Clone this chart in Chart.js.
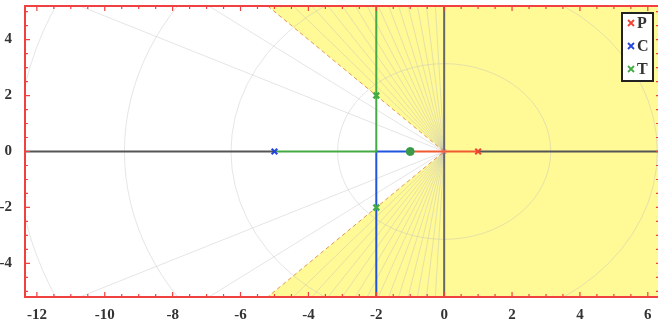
<!DOCTYPE html>
<html>
<head>
<meta charset="utf-8">
<script src="https://cdn.jsdelivr.net/npm/chart.js@4/dist/chart.umd.min.js"></script>
<style>
  body { margin: 0; background: #fff; overflow: hidden; }
  #wrap { width: 659px; height: 322px; }
</style>
</head>
<body>
<div id="wrap"><canvas id="locus"></canvas></div>
<script>
// axis ranges and tick labels
const xRange = [-12.35, 6.3];
const yRange = [-5.2, 5.2];
const xTickVals = [-12, -10, -8, -6, -4, -2, 0, 2, 4, 6];
const yTickVals = [-4, -2, 0, 2, 4];

// poles / zeros
const pX = [0, 1], pY = [0, 0];
const cX = [-5], cY = [0];
const tX = [-2, -2], tY = [2, -2];
const zX = [-1], zY = [0];

// locus branches
const greenX = [-5, -2, -2], greenY = [0, 0, 5.2];
const blueX = [-1, -2, -2], blueY = [0, 0, -5.2];
const redX = [-1, 1], redY = [0, 0];
const grayLeftX = [-12.35, -5], grayLeftY = [0, 0];
const grayRightX = [1, 6.3], grayRightY = [0, 0];
const imagX = [0, 0], imagY = [-5.2, 5.2];

// damping boundary (zeta = 0.707) and s-plane grid
const boundX = [-5.2, 0, -5.2], boundY = [5.2, 0, -5.2];
const gridRadii = [3.14, 6.28, 9.42, 12.57];
const zetaLines = [0.05, 0.1, 0.15, 0.2, 0.25, 0.3, 0.35, 0.4, 0.45, 0.5, 0.55, 0.6, 0.65, 0.8, 0.9];

const legendNames = ['P', 'C', 'T'];
const legendColors = ['#ee4433', '#2244dd', '#44aa44'];

const pts = (xs, ys) => xs.map((x, i) => ({ x: x, y: ys[i] }));

const line = (xs, ys, color, w) => ({
  type: 'line', data: pts(xs, ys), borderColor: color, borderWidth: w || 2,
  pointRadius: 0, showLine: true, fill: false, tension: 0
});
const marks = (xs, ys, color, style, r, w) => ({
  type: 'scatter', data: pts(xs, ys), pointStyle: style, pointRadius: r,
  borderColor: color, backgroundColor: color, pointBorderWidth: w, showLine: false
});

const planePlugin = {
  id: 'plane',
  beforeDatasetsDraw(chart) {
    const { ctx, chartArea: a, scales: { x, y } } = chart;
    const px = v => x.getPixelForValue(v), py = v => y.getPixelForValue(v);
    ctx.save();
    ctx.beginPath();
    ctx.rect(a.left, a.top, a.right - a.left, a.bottom - a.top);
    ctx.clip();
    // yellow region
    ctx.fillStyle = 'rgb(255,249,150)';
    ctx.beginPath();
    ctx.moveTo(px(boundX[0]), py(boundY[0]));
    ctx.lineTo(px(boundX[1]), py(boundY[1]));
    ctx.lineTo(px(boundX[2]), py(boundY[2]));
    ctx.lineTo(px(xRange[1]), py(yRange[0]));
    ctx.lineTo(px(xRange[1]), py(yRange[1]));
    ctx.closePath();
    ctx.fill();
    // grid circles
    ctx.strokeStyle = 'rgba(190,190,190,0.4)';
    ctx.lineWidth = 1;
    gridRadii.forEach(r => {
      ctx.beginPath();
      ctx.ellipse(px(0), py(0), Math.abs(px(r) - px(0)), Math.abs(py(r) - py(0)), 0, 0, Math.PI * 2);
      ctx.stroke();
    });
    // damping lines
    zetaLines.forEach(z => {
      const s = Math.sqrt(1 - z * z) * 20;
      ctx.beginPath();
      ctx.moveTo(px(-z * 20), py(s));
      ctx.lineTo(px(0), py(0));
      ctx.lineTo(px(-z * 20), py(-s));
      ctx.stroke();
    });
    // dashed boundary
    ctx.strokeStyle = 'rgba(220,135,60,0.85)';
    ctx.setLineDash([4, 3]);
    ctx.beginPath();
    ctx.moveTo(px(boundX[0]), py(boundY[0]));
    ctx.lineTo(px(boundX[1]), py(boundY[1]));
    ctx.lineTo(px(boundX[2]), py(boundY[2]));
    ctx.stroke();
    ctx.restore();
  },
  afterDraw(chart) {
    const { ctx, chartArea: a, scales: { x, y } } = chart;
    const px = v => x.getPixelForValue(v), py = v => y.getPixelForValue(v);
    ctx.save();
    ctx.strokeStyle = '#f04040';
    ctx.lineWidth = 2;
    ctx.beginPath();
    ctx.moveTo(a.right, a.top); ctx.lineTo(a.left, a.top);
    ctx.lineTo(a.left, a.bottom); ctx.lineTo(a.right, a.bottom);
    ctx.stroke();
    // ticks every 0.5
    ctx.lineWidth = 1.2;
    for (let v = -12; v <= 6; v += 0.5) {
      const len = Number.isInteger(v / 2) ? 5 : 3;
      const X = px(v);
      ctx.beginPath();
      ctx.moveTo(X, a.bottom); ctx.lineTo(X, a.bottom - len);
      ctx.moveTo(X, a.top); ctx.lineTo(X, a.top + len);
      ctx.stroke();
    }
    for (let v = -5; v <= 5; v += 0.5) {
      const len = Number.isInteger(v / 2) ? 5 : 3;
      const Y = py(v);
      ctx.beginPath();
      ctx.moveTo(a.left, Y); ctx.lineTo(a.left + len, Y);
      ctx.moveTo(a.right, Y); ctx.lineTo(a.right - 2, Y);
      ctx.stroke();
    }
    // legend
    const bx = 622, by = 13, bw = 31, bh = 68;
    ctx.fillStyle = '#fff';
    ctx.fillRect(bx, by, bw, bh);
    ctx.strokeStyle = '#222';
    ctx.lineWidth = 2;
    ctx.strokeRect(bx, by, bw, bh);
    ctx.font = 'bold 16px "Liberation Serif"';
    ctx.textBaseline = 'middle';
    legendNames.forEach((n, i) => {
      const cy = by + 10 + i * 23;
      ctx.strokeStyle = legendColors[i];
      ctx.lineWidth = 1.8;
      ctx.beginPath();
      ctx.moveTo(bx + 6, cy - 3); ctx.lineTo(bx + 12, cy + 3);
      ctx.moveTo(bx + 12, cy - 3); ctx.lineTo(bx + 6, cy + 3);
      ctx.stroke();
      ctx.fillStyle = '#333';
      ctx.fillText(n, bx + 15, cy + 1);
    });
    ctx.restore();
  }
};

const tickFont = { family: '"Liberation Serif", serif', size: 15, weight: 'bold' };
const noPad = s => { s.paddingLeft = 0; s.paddingRight = 0; s.paddingTop = 0; s.paddingBottom = 0; };

new Chart(document.getElementById('locus'), {
  type: 'scatter',
  data: {
    datasets: [
      marks(pX.slice(0, 1), pY.slice(0, 1), 'rgba(240,110,110,0.6)', 'crossRot', 3, 1.5),
      marks(cX, cY, '#2244dd', 'crossRot', 4, 2),
      marks(tX, tY, '#44aa44', 'crossRot', 4, 2.5),
      marks(zX, zY, '#3a9a4a', 'circle', 4, 1),
      marks(pX.slice(1), pY.slice(1), '#ee4433', 'crossRot', 4, 2),
      line(greenX, greenY, '#44aa44'),
      line(blueX, blueY, '#2255dd'),
      line(redX, redY, '#f05a30'),
      line(grayLeftX, grayLeftY, '#555'),
      line(grayRightX, grayRightY, '#555'),
      line(imagX, imagY, '#666')
    ]
  },
  options: {
    responsive: true,
    maintainAspectRatio: false,
    animation: false,
    layout: { autoPadding: false, padding: { top: 6, right: 1, left: 0, bottom: 0 } },
    plugins: { legend: { display: false }, tooltip: { enabled: false } },
    scales: {
      x: {
        type: 'linear', min: xRange[0], max: xRange[1],
        grid: { display: false }, border: { display: false },
        ticks: { font: tickFont, color: '#333', padding: 1, autoSkip: false, maxRotation: 0 },
        afterBuildTicks: s => { s.ticks = xTickVals.map(v => ({ value: v })); },
        afterFit: s => { s.height = 25; noPad(s); }
      },
      y: {
        type: 'linear', min: yRange[0], max: yRange[1],
        grid: { display: false }, border: { display: false },
        ticks: { font: tickFont, color: '#333', padding: 5, autoSkip: false },
        afterBuildTicks: s => { s.ticks = yTickVals.map(v => ({ value: v })); },
        afterFit: s => { s.width = 25; noPad(s); }
      }
    }
  },
  plugins: [planePlugin]
});
</script>
</body>
</html>
